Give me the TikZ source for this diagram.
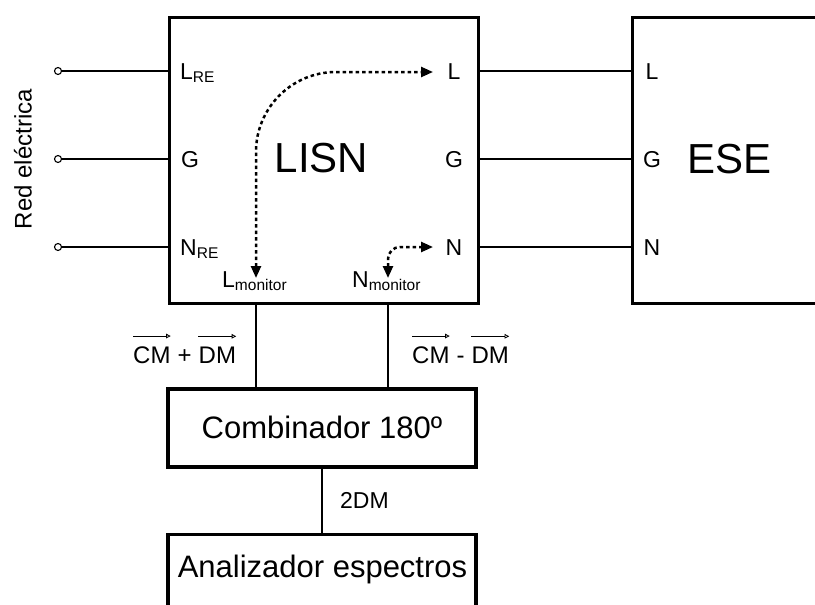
\documentclass[tikz,border=0pt]{standalone}
\usepackage{fontspec}
\setmainfont{Liberation Sans}
\usetikzlibrary{arrows.meta}
\newcommand\fsz[1]{\fontsize{#1}{#1}\selectfont}
\newcommand\subtx[1]{\raisebox{-3pt}{\fsz{15.5}#1}}
\begin{document}
\begin{tikzpicture}[x=1pt,y=-1pt,
  box/.style={draw, line width=3.4pt, inner sep=0pt},
  wire/.style={line width=1.2pt},
  lbl/.style={inner sep=0pt, font=\fsz{23}},
  big/.style={inner sep=0pt, font=\fsz{42}},
  mid/.style={inner sep=0pt, font=\fsz{31}},
  sig/.style={inner sep=0pt, font=\fsz{24}},
  flow/.style={line width=2.5pt, dash pattern=on 3.5pt off 3pt,
    {Triangle[length=12pt,width=10pt]}-{Triangle[length=12pt,width=10pt]}},
  vecarr/.style={line width=0.8pt, -{Triangle[open,length=4.5pt,width=4.5pt]}},
  term/.style={circle, draw, line width=1.1pt, inner sep=0pt, minimum size=7pt, fill=white}]
\useasboundingbox (0,0) rectangle (815,605);

% boxes
\node[box, minimum width=309pt, minimum height=286pt, anchor=north west] (lisn) at (168,16) {};
\node[box, minimum width=200pt, minimum height=286pt, anchor=north west] (ese) at (631,16) {};
\node[box, minimum width=308pt, minimum height=78pt] (comb) at (322,428) {};
\node[box, minimum width=308pt, minimum height=90pt, anchor=north] (ana) at (322,533) {};

% box texts
\node[big, anchor=base] (lisnT) at (321.5,172) {LISN};
\node[big, anchor=base] (eseT) at (729.5,173) {ESE};
\node[mid, anchor=base] (combT) at (322,438) {Combinador 180º};
\node[mid, anchor=base] (anaT) at (322.5,577) {Analizador espectros};
\node[sig, rotate=90] (red) at (23,159) {Red eléctrica};

% left terminals
\node[term] (tL) at (58,71) {};
\node[term] (tG) at (58,159) {};
\node[term] (tN) at (58,247) {};
\draw[wire] (tL.east) -- (tL -| lisn.west);
\draw[wire] (tG.east) -- (tG -| lisn.west);
\draw[wire] (tN.east) -- (tN -| lisn.west);
\draw[wire] (lisn.east |- tL) -- (ese.west |- tL);
\draw[wire] (lisn.east |- tG) -- (ese.west |- tG);
\draw[wire] (lisn.east |- tN) -- (ese.west |- tN);

% labels inside LISN
\node[lbl, anchor=base west] (lre) at (180,79) {L\subtx{RE}};
\node[lbl, anchor=base west] (gl) at (181,167) {G};
\node[lbl, anchor=base west] (nre) at (180,255) {N\subtx{RE}};
\node[lbl, anchor=base] (lo) at (454,79) {L};
\node[lbl, anchor=base] (go) at (454,167) {G};
\node[lbl, anchor=base] (no) at (454,255) {N};
\node[lbl, anchor=base west] (lmon) at (222,287) {L\subtx{monitor}};
\node[lbl, anchor=base west] (nmon) at (352,287) {N\subtx{monitor}};

% labels inside ESE
\node[lbl, anchor=base] (le) at (652,79) {L};
\node[lbl, anchor=base] (ge) at (652,167) {G};
\node[lbl, anchor=base] (ne) at (652,255) {N};

% dotted flows
\coordinate (a1s) at (256,278);
\coordinate (a1e) at (433,72);
\coordinate (a2s) at (388,278);
\coordinate (a2e) at (433,247);
\draw[flow, rounded corners=80pt] (a1s) |- (a1e);
\draw[flow, rounded corners=12pt] (a2s) |- (a2e);

% monitor wires
\coordinate (mL) at (256,0);
\coordinate (mN) at (388,0);
\draw[wire] (lisn.south -| mL) -- (comb.north -| mL);
\draw[wire] (lisn.south -| mN) -- (comb.north -| mN);
\draw[wire] (comb.south) -- (ana.north);

% signal labels
\node[sig, anchor=base west] (cm1) at (133,363) {CM};
\node[sig, anchor=base west] (pl1) at (cm1.base east) {\kern0.278em+\kern0.278em};
\node[sig, anchor=base west] (dm1) at (pl1.base east) {DM};
\node[sig, anchor=base west] (cm2) at (412,363) {CM};
\node[sig, anchor=base west] (mi2) at (cm2.base east) {\kern0.278em-\kern0.278em};
\node[sig, anchor=base west] (dm2) at (mi2.base east) {DM};
\draw[vecarr] ([yshift=10pt]cm1.north west) -- ([yshift=10pt]cm1.north east);
\draw[vecarr] ([yshift=10pt]dm1.north west) -- ([yshift=10pt]dm1.north east);
\draw[vecarr] ([yshift=10pt]cm2.north west) -- ([yshift=10pt]cm2.north east);
\draw[vecarr] ([yshift=10pt]dm2.north west) -- ([yshift=10pt]dm2.north east);
\node[lbl, anchor=base west] (dm2x) at (340,508) {2DM};
\end{tikzpicture}
\end{document}
